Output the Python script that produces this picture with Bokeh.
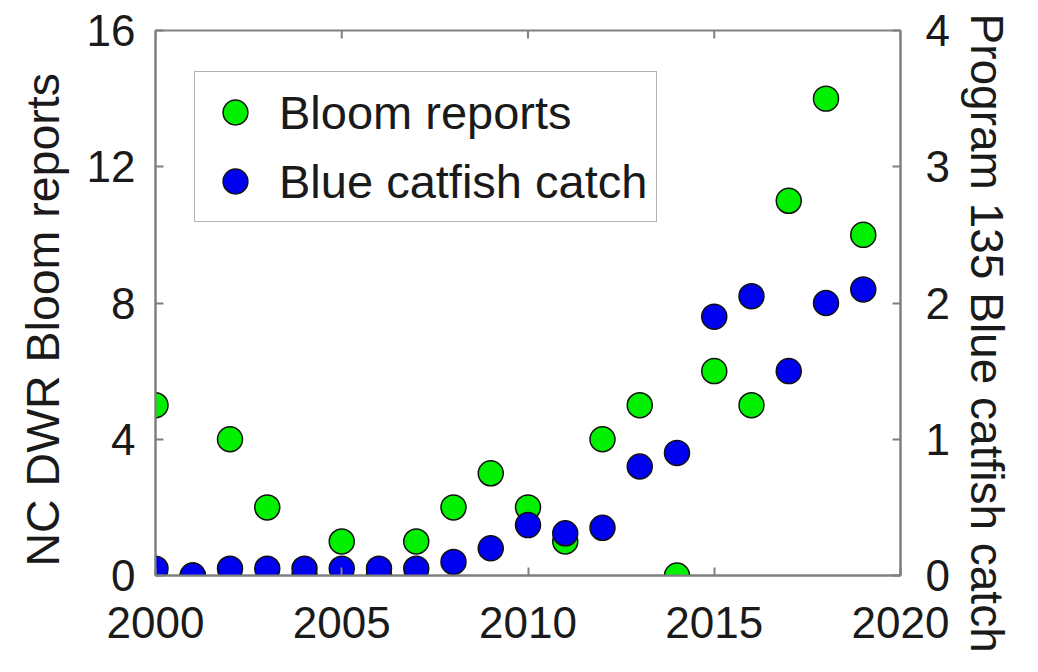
import math
from bokeh.plotting import figure
from bokeh.models import (LinearAxis, Range1d, FixedTicker, Legend, LegendItem, Title)
from bokeh.embed import file_html
from bokeh.resources import INLINE

# ---- data ----
years = list(range(2000, 2020))
bloom_reports = [5, 0, 4, 2, 0, 1, 0, 1, 2, 3, 2, 1, 4, 5, 0, 6, 5, 11, 14, 10]
catfish_catch = [0.05, 0.0, 0.05, 0.05, 0.05, 0.05, 0.05, 0.05, 0.10, 0.20,
                 0.37, 0.31, 0.35, 0.80, 0.90, 1.90, 2.05, 1.50, 2.00, 2.10]
x_ticks = [2000, 2005, 2010, 2015, 2020]
left_ticks = [0, 4, 8, 12, 16]
right_ticks = [0, 1, 2, 3, 4]
left_title = "NC DWR Bloom reports"
right_title = "Program 135 Blue catfish catch"
series_names = ["Bloom reports", "Blue catfish catch"]

FONT = "Liberation Sans"
AX = "#808080"
TXT = "#1a1a1a"

p = figure(width=1022, height=656, output_backend="svg", toolbar_location=None,
           x_range=Range1d(x_ticks[0], x_ticks[-1]),
           y_range=Range1d(left_ticks[0], left_ticks[-1]),
           min_border_left=155, min_border_right=122, min_border_top=30,
           min_border_bottom=81)
p.extra_y_ranges = {"right": Range1d(right_ticks[0], right_ticks[-1])}
p.grid.visible = False
p.background_fill_color = "white"
p.border_fill_color = "white"
p.outline_line_color = AX
p.outline_line_width = 2


def style(ax):
    ax.axis_line_color = AX
    ax.axis_line_width = 2
    ax.major_tick_line_color = AX
    ax.major_tick_line_width = 2
    ax.major_tick_in = 8
    ax.major_tick_out = 0
    ax.minor_tick_line_color = None
    ax.major_label_text_font = FONT
    ax.major_label_text_color = TXT
    ax.major_label_text_font_size = "44px"


# bottom x axis
xa = p.xaxis[0]
xa.ticker = FixedTicker(ticks=x_ticks)
style(xa)
xa.major_label_standoff = 31

# left y axis
ya = p.yaxis[0]
ya.ticker = FixedTicker(ticks=left_ticks)
style(ya)
ya.major_label_standoff = 20

# right axis
ra = LinearAxis(y_range_name="right", ticker=FixedTicker(ticks=right_ticks))
style(ra)
ra.major_label_standoff = 25
p.add_layout(ra, "right")

# inward tick marks along the top edge
p.ray(x=x_ticks, y=left_ticks[-1], length=8, length_units="screen",
      angle=-math.pi / 2, line_color=AX, line_width=2)

g = p.scatter(years, bloom_reports, size=25, fill_color="#00f000",
              line_color="#111111", line_width=1.5)
b = p.scatter(years, catfish_catch, size=25, fill_color="#0000f0",
              line_color="#111111", line_width=1.5, y_range_name="right")

legend = Legend(items=[LegendItem(label=series_names[0], renderers=[g]),
                       LegendItem(label=series_names[1], renderers=[b])],
                location=(39, 353))
legend.label_text_font = FONT
legend.label_text_font_size = "47px"
legend.label_text_color = TXT
legend.glyph_width = 62
legend.glyph_height = 62
legend.label_height = 62
legend.spacing = 7
legend.padding = 9
legend.label_standoff = 13
legend.border_line_color = "#666666"
legend.border_line_width = 1.5
legend.background_fill_color = "white"
legend.background_fill_alpha = 1
legend.margin = 0
p.add_layout(legend, "center")

# axis titles as side-panel titles (allow an offset along the axis)
lt = Title(text=left_title, align="left", offset=9, vertical_align="middle",
           text_font=FONT, text_font_size="46.5px", text_font_style="normal",
           text_color=TXT, standoff=28)
p.add_layout(lt, "left")
rt = Title(text=right_title, align="left", offset=-17, vertical_align="middle",
           text_font=FONT, text_font_size="46px", text_font_style="normal",
           text_color=TXT, standoff=14)
p.add_layout(rt, "right")

open("out.html", "w").write(file_html(p, INLINE))
